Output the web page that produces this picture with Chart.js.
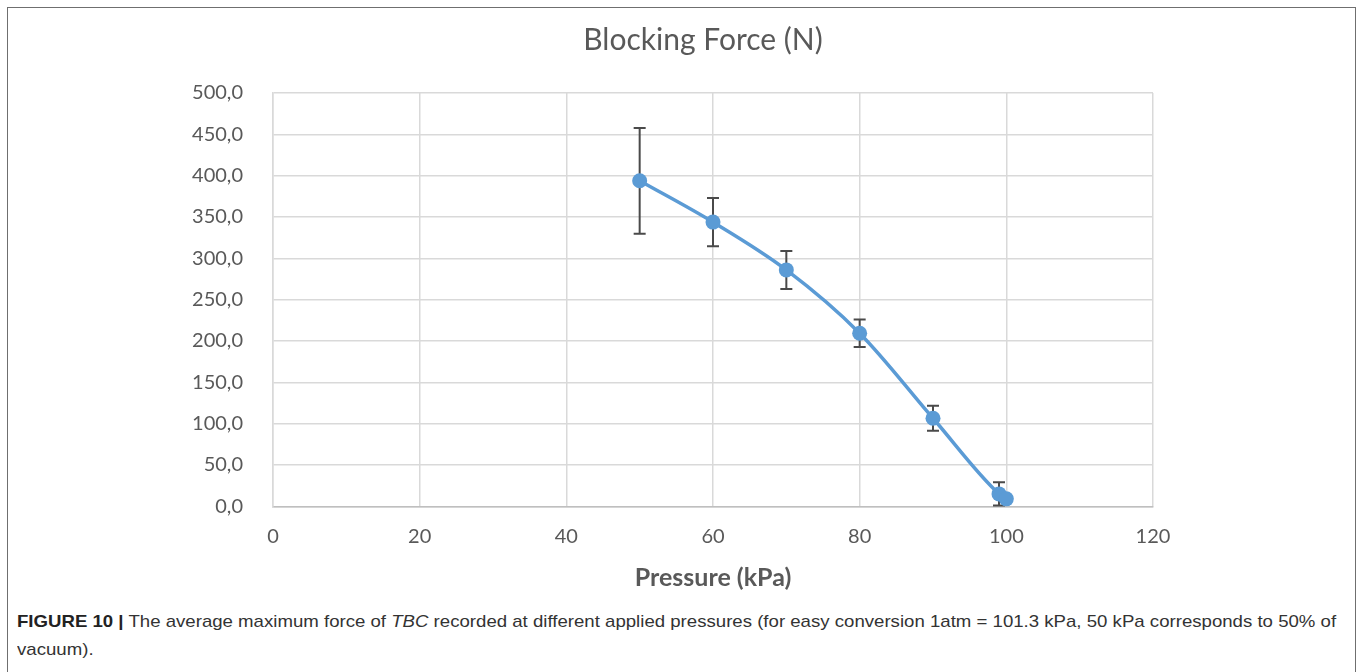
<!DOCTYPE html>
<html>
<head>
<meta charset="utf-8">
<title>Blocking Force</title>
<script src="https://cdn.jsdelivr.net/npm/chart.js@4.4.1/dist/chart.umd.min.js"></script>
<style>
    html, body {
        margin: 0;
        padding: 0;
        background: #fff;
        width: 1360px;
        height: 672px;
        overflow: hidden;
    }
    #frame {
        position: absolute;
        left: 7px;
        top: 7px;
        width: 1347px;
        height: 700px;
        border: 1px solid #6f6f6f;
    }
    #chart-box {
        position: absolute;
        left: 8px;
        top: 8px;
        width: 1346px;
        height: 592px;
    }
    #caption {
        position: absolute;
        left: 17px;
        top: 608px;
        font-family: "Liberation Sans", Arial, sans-serif;
        font-size: 17px;
        line-height: 28px;
        color: #333;
        white-space: nowrap;
        transform: scaleX(1.095);
        transform-origin: 0 0;
    }
    #caption b { color: #222; }
</style>
</head>
<body>
<div id="frame"></div>
<div id="chart-box"><canvas id="force-chart"></canvas></div>
<div id="caption">
    <b>FIGURE 10 |</b> The average maximum force of <i>TBC</i> recorded at different applied pressures (for easy conversion 1atm = 101.3 kPa, 50 kPa corresponds to 50% of<br>vacuum).
</div>

<script>
// Data
const pressures = [50, 60, 70, 80, 90, 99, 100];          // kPa
const forces = [393.8, 343.8, 286.0, 209.4, 106.5, 15.0, 9.0]; // N
const errors = [64.0, 29.3, 23.0, 16.6, 15.0, 14.0, 3.0];   // +/- N

const xTicks = [0, 20, 40, 60, 80, 100, 120];
const yTicks = [0, 50, 100, 150, 200, 250, 300, 350, 400, 450, 500];

const TEXT_GREY = '#595959';
const GRID_GREY = '#d9d9d9';
const LINE_BLUE = '#5b9bd5';

// Draws the vertical error bars with caps, behind the markers
const errorBarPlugin = {
    id: 'errorBars',
    beforeDatasetsDraw(chart) {
        const ctx = chart.ctx;
        const xs = chart.scales.x;
        const ys = chart.scales.y;
        ctx.save();
        ctx.strokeStyle = '#4a4a4a';
        ctx.lineWidth = 2;
        pressures.forEach((p, i) => {
            const px = xs.getPixelForValue(p);
            const top = ys.getPixelForValue(forces[i] + errors[i]);
            const bottom = ys.getPixelForValue(forces[i] - errors[i]);
            ctx.beginPath();
            ctx.moveTo(px, top);
            ctx.lineTo(px, bottom);
            ctx.moveTo(px - 6, top);
            ctx.lineTo(px + 6, top);
            ctx.moveTo(px - 6, bottom);
            ctx.lineTo(px + 6, bottom);
            ctx.stroke();
        });
        ctx.restore();
    }
};

function createChart(canvas) {
    const data = {
        datasets: [{
            label: 'Blocking Force (N)',
            data: pressures.map((p, i) => ({ x: p, y: forces[i] })),
            yAxisID: 'y',
            borderColor: LINE_BLUE,
            backgroundColor: LINE_BLUE,
            borderWidth: 3.5,
            pointRadius: 7.5,
            pointBorderWidth: 0,
            pointBackgroundColor: LINE_BLUE,
            cubicInterpolationMode: 'monotone',
            clip: false
        }]
    };

    const options = {
        responsive: true,
        maintainAspectRatio: false,
        animation: false,
        layout: {
            padding: { left: 44, right: 0, top: 0, bottom: 4 }
        },
        scales: {
            x: {
                type: 'linear',
                min: 0,
                max: 120,
                afterBuildTicks: (scale) => {
                    scale.ticks = xTicks.map(v => ({ value: v }));
                },
                afterFit: (scale) => {
                    scale.height = 89.7;
                },
                grid: { color: GRID_GREY, lineWidth: 1.5, drawTicks: false },
                border: { color: '#bfbfbf', width: 1.5 },
                ticks: {
                    padding: 18,
                    color: TEXT_GREY,
                    font: { family: 'Lato', size: 20 }
                },
                title: {
                    display: true,
                    text: 'Pressure (kPa)',
                    color: TEXT_GREY,
                    font: { family: 'Lato', size: 25, weight: 'bold' },
                    padding: { top: 10, bottom: 3 }
                }
            },
            y: {
                type: 'linear',
                position: 'left',
                min: 0,
                max: 500,
                afterBuildTicks: (scale) => {
                    scale.ticks = yTicks.map(v => ({ value: v }));
                },
                afterFit: (scale) => {
                    scale.width = 221;
                },
                grid: { color: GRID_GREY, lineWidth: 1.5, drawTicks: false },
                border: { color: GRID_GREY, width: 1.5 },
                ticks: {
                    padding: 30,
                    color: TEXT_GREY,
                    font: { family: 'Lato', size: 20 },
                    callback: (value) => value.toFixed(1).replace('.', ',')
                }
            },
            // empty right-hand space, so the title centres on the whole frame
            spacer: {
                type: 'linear',
                position: 'right',
                display: true,
                grid: { display: false },
                ticks: { display: false },
                border: { display: false },
                afterFit: (scale) => {
                    scale.width = 201;
                }
            }
        },
        plugins: {
            legend: { display: false },
            tooltip: { enabled: false },
            title: {
                display: true,
                text: 'Blocking Force (N)',
                color: TEXT_GREY,
                font: { family: 'Lato', size: 30, weight: 'normal' },
                padding: { top: 14, bottom: 35 }
            }
        }
    };

    new Chart(canvas, {
        type: 'line',
        data: data,
        options: options,
        plugins: [errorBarPlugin]
    });
}

createChart(document.getElementById('force-chart'));
</script>
</body>
</html>
